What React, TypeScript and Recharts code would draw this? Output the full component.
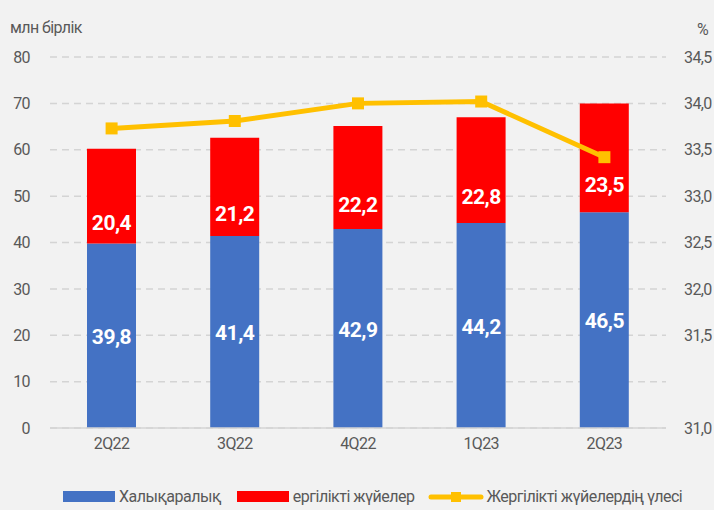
import { ComposedChart, Bar, Line, XAxis, YAxis, CartesianGrid, LabelList } from 'recharts'

const quarters = ['2Q22', '3Q22', '4Q22', '1Q23', '2Q23']
const international = [39.8, 41.4, 42.9, 44.2, 46.5]
const domestic = [20.4, 21.2, 22.2, 22.8, 23.5]
const domesticShare = [33.73, 33.81, 34.0, 34.02, 33.42]
const leftTicks = [0, 10, 20, 30, 40, 50, 60, 70, 80]
// right axis as printed: bottom gridline carries "31,0", the 31,0 gridline itself is unlabelled
const rightTicks = [30.5, 31.5, 32, 32.5, 33, 33.5, 34, 34.5]
const rightTickLabels = ['31,0', '31,5', '32,0', '32,5', '33,0', '33,5', '34,0', '34,5']

const data = quarters.map((q, i) => ({
  q,
  intl: international[i],
  dom: domestic[i],
  share: domesticShare[i],
}))

const FONT = "Roboto, sans-serif"
const GREY = '#595959'
const BLUE = '#4472c4'
const RED = '#ff0000'
const GOLD = '#ffc000'

const comma = (v: any, d = 1) => Number(v).toFixed(d).replace('.', ',')

const SquareDot = (props: any) => {
  const { cx, cy } = props
  if (cx == null || cy == null) return null
  return <rect x={cx - 6} y={cy - 6} width={12} height={12} fill={GOLD} />
}

const RedLabel = (props: any) => {
  const { x, y, width, height, value } = props
  return (
    <text x={x + width / 2} y={y + height / 2 + 27} textAnchor="middle" dominantBaseline="central"
      fill="#fff" fontSize={21} fontWeight={700} fontFamily={FONT} letterSpacing={-0.5}>
      {comma(value)}
    </text>
  )
}

const BlueLabel = (props: any) => {
  const { x, y, width, height, value } = props
  return (
    <text x={x + width / 2} y={y + height / 2 + 1} textAnchor="middle" dominantBaseline="central"
      fill="#fff" fontSize={21} fontWeight={700} fontFamily={FONT} letterSpacing={-0.5}>
      {comma(value)}
    </text>
  )
}

const tickStyle = { fontSize: 16, fill: GREY, fontFamily: FONT, letterSpacing: -0.6 }

export default function App() {
  return (
    <div style={{ position: 'absolute', left: 0, top: 0, width: 714, height: 510, background: '#f2f2f2', fontFamily: FONT, overflow: 'hidden' }}>
      <div style={{ position: 'absolute', left: 10, top: 18, fontSize: 16, color: GREY, letterSpacing: -0.6 }}>млн бірлік</div>
      <div style={{ position: 'absolute', left: 697, top: 20, fontSize: 16, color: GREY }}>%</div>
      <ComposedChart width={714} height={510} data={data} margin={{ top: 57, right: 0, bottom: 52, left: 0 }}>
        <CartesianGrid yAxisId="l" vertical={false} stroke="#d4d4d4" strokeDasharray="7 5" strokeWidth={1.5} />
        <XAxis dataKey="q" tickLine={false} axisLine={{ stroke: '#d4d4d4', strokeWidth: 1.5 }} height={30}
          tick={tickStyle} tickMargin={4} />
        <YAxis yAxisId="l" domain={[0, 80]} ticks={leftTicks} width={50} axisLine={false} tickLine={false}
          tickMargin={14} tick={tickStyle} />
        <YAxis yAxisId="r" orientation="right" domain={[30.5, 34.5]} ticks={rightTicks} width={48} axisLine={false}
          tickLine={false} tickMargin={12} tickFormatter={(v, i) => rightTickLabels[i]}
          tick={{ ...tickStyle, textAnchor: 'start' }} />
        <Bar yAxisId="l" dataKey="intl" stackId="a" fill={BLUE} barSize={49} isAnimationActive={false}>
          <LabelList dataKey="intl" content={BlueLabel} />
        </Bar>
        <Bar yAxisId="l" dataKey="dom" stackId="a" fill={RED} barSize={49} isAnimationActive={false}>
          <LabelList dataKey="dom" content={RedLabel} />
        </Bar>
        <Line yAxisId="r" dataKey="share" stroke={GOLD} strokeWidth={5} dot={<SquareDot />} activeDot={false}
          isAnimationActive={false} />
      </ComposedChart>
      <div style={{ position: 'absolute', left: 0, top: 487, width: 714, display: 'flex', alignItems: 'center', fontSize: 16, letterSpacing: -0.5, color: GREY, whiteSpace: 'nowrap' }}>
        <span style={{ display: 'inline-block', width: 52, height: 11, background: BLUE, marginLeft: 63, marginRight: 4 }} />
        <span>Халықаралық</span>
        <span style={{ display: 'inline-block', width: 52, height: 11, background: RED, marginLeft: 16, marginRight: 4 }} />
        <span>ергілікті жүйелер</span>
        <svg width={56} height={14} style={{ marginLeft: 14, marginRight: 2 }}>
          <line x1={3} y1={7} x2={53} y2={7} stroke={GOLD} strokeWidth={5} strokeLinecap="round" />
          <rect x={23} y={2} width={10} height={10} fill={GOLD} />
        </svg>
        <span>Жергілікті жүйелердің үлесі</span>
      </div>
    </div>
  )
}
